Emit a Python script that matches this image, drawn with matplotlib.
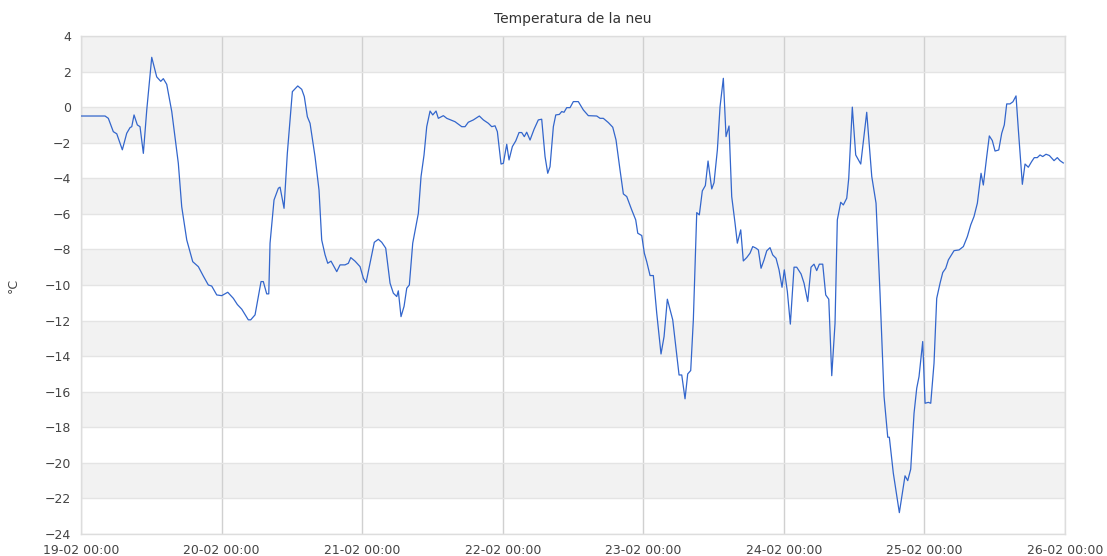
import pandas as pd
import matplotlib
matplotlib.use('Agg')
import matplotlib.pyplot as plt
import matplotlib.dates as mdates

# hours since 19-02 00:00 and snow temperature (°C)
hours = [0, 4.1, 4.66, 5.51, 6.1, 7.05, 7.8, 8.37, 8.66, 9.05, 9.61, 10.07, 10.64, 11.22,
         12.07, 12.92, 13.61, 14.05, 14.63, 15.49, 16.61, 17.19, 18.05, 19.07, 20.03, 20.88,
         21.73, 22.31, 23.17, 24.02, 25.05, 26.0, 26.69, 27.44, 28.56, 28.97, 29.71, 30.27,
         30.73, 31.12, 31.7, 32.05, 32.27, 32.95, 33.69, 33.98, 34.66, 35.22, 36.08, 37.0,
         37.68, 38.12, 38.64, 39.1, 39.95, 40.63, 41.09, 41.66, 42.12, 42.68, 43.66, 44.22,
         45.07, 45.64, 46.05, 46.78, 47.64, 48.2, 48.66, 49.34, 50.07, 50.76, 51.34, 52.02,
         52.76, 53.32, 53.9, 54.17, 54.63, 55.15, 55.61, 56.05, 56.63, 57.59, 58.05, 58.56,
         59.02, 59.59, 60.05, 60.61, 61.0, 61.86, 62.44, 63.85, 65.0, 65.56, 66.12, 66.98,
         68.0, 68.69, 69.54, 70.12, 70.68, 71.08, 71.71, 72.1, 72.68, 73.07, 73.64, 74.22,
         74.78, 75.24, 75.68, 76.09, 76.66, 77.34, 78.07, 78.65, 79.22, 79.68, 80.07, 80.64,
         81.05, 81.66, 82.07, 82.46, 82.92, 83.49, 84.05, 84.9, 85.76, 86.61, 88.05, 88.61,
         89.17, 90.03, 90.78, 91.34, 92.02, 92.59, 93.17, 94.02, 94.7, 95.05, 95.73, 96.17,
         96.58, 97.15, 97.71, 98.29, 99.02, 99.54, 100.1, 101.02, 102.1, 102.56, 103.12,
         103.58, 104.09, 104.54, 105.12, 105.56, 106.07, 106.59, 107.05, 107.68, 108.07,
         108.64, 109.1, 109.66, 110.12, 110.63, 111.09, 111.66, 112.05, 112.63, 113.07,
         113.65, 114.22, 114.68, 115.24, 115.64, 116.1, 116.61, 117.07, 117.63, 118.09,
         118.66, 119.17, 119.68, 120.07, 120.59, 121.1, 121.73, 122.19, 122.93, 123.44,
         124.07, 124.63, 125.14, 125.6, 126.05, 126.63, 127.14, 127.66, 128.17, 128.73,
         129.12, 129.7, 130.15, 130.73, 131.07, 131.68, 132.26, 133.12, 134.14, 135.0,
         135.73, 136.41, 137.1, 137.73, 138.0, 138.68, 139.71, 140.68, 141.14, 141.65,
         142.22, 142.68, 143.07, 143.7, 144.1, 144.66, 145.07, 145.63, 146.09, 146.66,
         147.12, 147.63, 148.08, 149.05, 149.9, 150.64, 151.32, 151.9, 152.46, 153.03,
         153.66, 154.05, 154.63, 155.07, 155.58, 156.05, 156.68, 157.19, 157.63, 158.04,
         158.6, 159.1, 159.63, 160.03, 160.71, 161.17, 161.73, 162.3, 162.75, 163.26, 163.73,
         164.19, 164.75, 165.32, 166.12, 166.68, 167.14, 167.7]

temps = [-0.5, -0.5, -0.63, -1.38, -1.5, -2.4, -1.47, -1.15, -1.1, -0.44, -1.0, -1.1, -2.6, -0.16,
         2.8, 1.7, 1.45, 1.6, 1.28, -0.25, -3.16, -5.6, -7.47, -8.69, -8.97, -9.5,
         -10.0, -10.06, -10.56, -10.6, -10.41, -10.75, -11.1, -11.36, -11.96, -11.96, -11.68, -10.65,
         -9.81, -9.81, -10.5, -10.5, -7.65, -5.22, -4.56, -4.5, -5.69, -2.6, 0.87, 1.19,
         1.0, 0.59, -0.54, -0.91, -2.78, -4.66, -7.47, -8.3, -8.78, -8.66, -9.25, -8.87,
         -8.87, -8.78, -8.46, -8.66, -8.97, -9.62, -9.87, -8.78, -7.6, -7.43, -7.6, -7.93,
         -9.9, -10.46, -10.65, -10.33, -11.78, -11.2, -10.18, -10.0, -7.65, -5.97, -3.9, -2.69,
         -1.1, -0.22, -0.44, -0.22, -0.63, -0.48, -0.63, -0.82, -1.1, -1.1, -0.85, -0.72,
         -0.5, -0.72, -0.91, -1.1, -1.05, -1.38, -3.2, -3.16, -2.09, -2.97, -2.22, -1.9,
         -1.43, -1.43, -1.66, -1.41, -1.85, -1.25, -0.72, -0.68, -2.78, -3.72, -3.35, -1.1,
         -0.44, -0.41, -0.25, -0.29, -0.03, -0.03, 0.31, 0.31, -0.16, -0.48, -0.5, -0.63,
         -0.63, -0.87, -1.13, -1.85, -3.53, -4.88, -5.03, -5.78, -6.34, -7.09, -7.22, -8.21,
         -8.69, -9.47, -9.47, -11.59, -13.88, -12.9, -10.8, -11.96, -15.06, -15.06, -16.4,
         -15.0, -14.81, -11.96, -5.93, -6.06, -4.71, -4.41, -3.03, -4.6, -4.25,
         -2.41, 0.03, 1.62, -1.66, -1.06, -5.03, -6.53, -7.65, -6.9, -8.65,
         -8.46, -8.21, -7.84, -7.93, -8.03, -9.06, -8.59, -8.08, -7.9, -8.31,
         -8.5, -9.15, -10.13, -9.15, -10.37, -12.2, -9.0, -9.0, -9.38, -9.9,
         -10.93, -9.0, -8.83, -9.19, -8.83, -8.83, -10.56, -10.8, -15.1, -12.15,
         -6.34, -5.35, -5.5, -5.12, -4.0, 0.0, -2.69, -3.2, -0.29, -3.9,
         -5.4, -10.46, -16.27, -18.56, -18.56, -20.58, -22.8, -20.73, -21.0, -20.36,
         -17.21, -15.8, -15.15, -13.18, -16.65, -16.6, -16.65, -14.4, -10.75, -9.9,
         -9.3, -9.06, -8.59, -8.07, -8.03, -7.84, -7.28, -6.62, -6.15, -5.4,
         -3.72, -4.38, -2.78, -1.62, -1.88, -2.47, -2.41, -1.47, -1.0, 0.18,
         0.18, 0.3, 0.63, -1.28, -4.34, -3.2, -3.38, -3.06, -2.84, -2.84, -2.69,
         -2.78, -2.65, -2.72, -3.01, -2.84, -3.01, -3.14]

start = pd.Timestamp('2019-02-19 00:00')
times = start + pd.to_timedelta(hours, unit='h')
y_ticks = list(range(-24, 5, 2))

fig = plt.figure(figsize=(11.07, 5.56), dpi=100)
ax = fig.add_axes([0.0732, 0.0396, 0.8889, 0.8957])

# alternating grey bands (2..4, -2..0, -6..-4, ...)
for lo in y_ticks[:-1]:
    if (lo // 2) % 2 == 1:
        ax.axhspan(lo, lo + 2, color='#f2f2f2', zorder=0, lw=0)

ax.plot(times, temps, color='#3366cc', lw=0.9, zorder=3)

ax.set_xlim(start, start + pd.Timedelta(days=7))
ax.set_ylim(-24, 4)
ax.set_yticks(y_ticks)
ax.xaxis.set_major_locator(mdates.DayLocator())
ax.xaxis.set_major_formatter(mdates.DateFormatter('%d-%m %H:%M'))

ax.grid(axis='y', color='#e4e4e4', lw=1, zorder=1)
ax.grid(axis='x', color='#d0d0d0', lw=1, zorder=1)
ax.set_axisbelow(True)
for s in ax.spines.values():
    s.set_color('#dddddd')
    s.set_linewidth(1)

ax.tick_params(length=0, labelsize=9, colors='#444444', pad=7)
ax.set_ylabel('°C', fontsize=9, color='#444444', labelpad=18)
ax.set_title('Temperatura de la neu', fontsize=10, color='#333333', pad=9)

fig.savefig('out.png', dpi=100)
